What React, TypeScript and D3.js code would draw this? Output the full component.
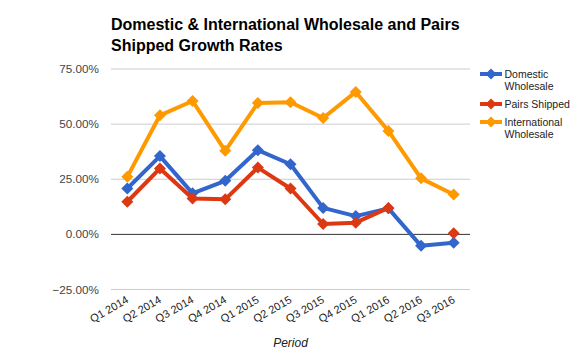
import React from "react";
import * as d3 from "d3";

const categories = ["Q1 2014","Q2 2014","Q3 2014","Q4 2014","Q1 2015","Q2 2015","Q3 2015","Q4 2015","Q1 2016","Q2 2016","Q3 2016"];
const domestic: (number|null)[] = [20.8,35.5,18.6,24.3,38.2,31.8,12.0,8.3,11.8,-5.2,-3.8];
const pairs: (number|null)[] = [14.8,29.9,16.3,15.9,30.3,20.8,4.7,5.3,12.0,null,0.5];
const international: (number|null)[] = [26.1,54.0,60.5,37.9,59.6,59.9,52.8,64.6,46.9,25.4,18.1];
const yTicks = [-25,0,25,50,75];
const seriesNames = ["Domestic Wholesale","Pairs Shipped","International Wholesale"];
const legendLines = [["Domestic","Wholesale"],["Pairs Shipped"],["International","Wholesale"]];
const colors = ["#3366cc","#dc3912","#ff9900"];
const titleLines = ["Domestic & International Wholesale and Pairs","Shipped Growth Rates"];

export default function App() {
  const W = 580, H = 359;
  const left = 111, right = 470, top = 69, bottom = 289.5;
  const x = d3.scaleBand().domain(categories).range([left, right]);
  const y = d3.scaleLinear().domain([-25, 75]).range([bottom, top]);
  const data = [domestic, pairs, international];
  const line = d3.line<number|null>()
    .defined(d => d !== null)
    .x((_, i) => x(categories[i])! + x.bandwidth() / 2)
    .y(d => y(d as number));
  const diamond = (cx: number, cy: number, r: number) =>
    `M${cx},${cy - r}L${cx + r},${cy}L${cx},${cy + r}L${cx - r},${cy}Z`;
  const font = "Arial, 'Liberation Sans', sans-serif";
  const legendY = [74, 104, 122];
  return (
    <svg width={W} height={H} style={{ position: "absolute", left: 0, top: 0, background: "#fff" }} fontFamily={font}>
      <rect x={0} y={0} width={W} height={H} fill="#fff" />
      {titleLines.map((t, i) => (
        <text key={i} x={111} y={30 + i * 20.5} fontSize={16} fontWeight="bold" fill="#000">{t}</text>
      ))}
      {yTicks.map(t => (
        <g key={t}>
          <line x1={left} x2={right} y1={y(t)} y2={y(t)} stroke={t === 0 ? "#333" : "#ccc"} strokeWidth={1} />
          <text x={99} y={y(t)} dy="0.35em" textAnchor="end" fontSize={11.7} fill="#444">{d3.format(".2f")(t)}%</text>
        </g>
      ))}
      {data.map((s, k) => (
        <g key={k}>
          <path d={line(s) || ""} fill="none" stroke={colors[k]} strokeWidth={4} strokeLinejoin="round" />
          {s.map((v, i) => v === null ? null : (
            <path key={i} d={diamond(x(categories[i])! + x.bandwidth() / 2, y(v), 6)} fill={colors[k]} />
          ))}
        </g>
      ))}
      {categories.map(c => {
        const cx = x(c)! + x.bandwidth() / 2;
        return (
          <text key={c} transform={`translate(${cx + 2},${302}) rotate(-30)`} textAnchor="end" fontSize={11} fill="#222">{c}</text>
        );
      })}
      <text x={(left + right) / 2} y={347} textAnchor="middle" fontSize={12} fontStyle="italic" fill="#222">Period</text>
      {seriesNames.map((n, k) => (
        <g key={n}>
          <line x1={480} x2={502} y1={legendY[k]} y2={legendY[k]} stroke={colors[k]} strokeWidth={4} />
          <path d={diamond(491, legendY[k], 5.5)} fill={colors[k]} />
          {legendLines[k].map((l, j) => (
            <text key={j} x={504.5} y={legendY[k] + j * 12} dy="0.35em" fontSize={10.5} fill="#222">{l}</text>
          ))}
        </g>
      ))}
    </svg>
  );
}
